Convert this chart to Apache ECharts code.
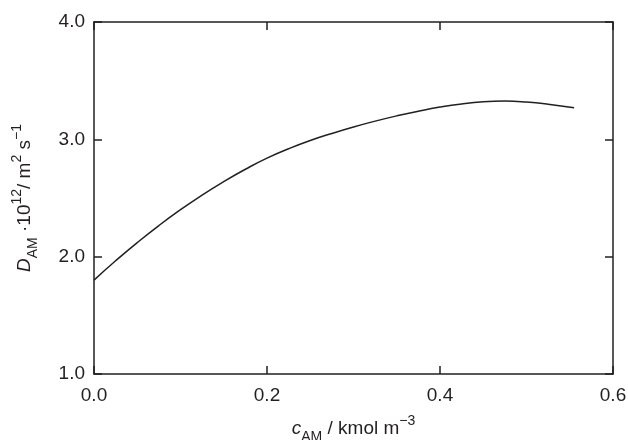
<!DOCTYPE html>
<html><head><meta charset="utf-8">
<script src="https://cdn.jsdelivr.net/npm/echarts@6/dist/echarts.min.js"></script>
<style>html,body{margin:0;padding:0;background:#fff}#c{width:628px;height:440px}</style>
</head><body><div id="c"></div>
<script>
var cAM = [0, 0.025, 0.05, 0.075, 0.1, 0.125, 0.15, 0.175, 0.2, 0.225, 0.25, 0.275, 0.3, 0.325, 0.35, 0.375, 0.4, 0.425, 0.45, 0.475, 0.5, 0.525, 0.555];
var DAM = [1.80, 1.965, 2.12, 2.265, 2.40, 2.525, 2.64, 2.745, 2.84, 2.92, 2.99, 3.05, 3.105, 3.155, 3.20, 3.24, 3.275, 3.302, 3.32, 3.326, 3.318, 3.30, 3.27];
var xTicks = [0.0, 0.2, 0.4, 0.6];
var yTicks = [1.0, 2.0, 3.0, 4.0];

var FONT = '"Liberation Sans", Arial, sans-serif';
var INK = '#231f20';
var chart = echarts.init(document.getElementById('c'), null, {renderer: 'canvas'});
var data = cAM.map(function (x, i) { return [x, DAM[i]]; });

function axisBase(show, margin) {
  return {
    axisLine: {show: true, onZero: false, lineStyle: {color: INK, width: 1.5}},
    axisTick: {show: true, inside: true, length: 8, lineStyle: {color: INK, width: 1.5}},
    splitLine: {show: false},
    axisLabel: {show: show, color: INK, fontSize: 19, fontFamily: FONT, margin: margin,
      formatter: function (v) { return v.toFixed(1); }}
  };
}
var rich = {
  it: {fontStyle: 'italic', fontSize: 19, fontFamily: FONT, color: INK, lineHeight: 30, verticalAlign: 'middle'},
  n: {fontSize: 19, fontFamily: FONT, color: INK, lineHeight: 30, verticalAlign: 'middle'},
  sub: {fontSize: 14, fontFamily: FONT, color: INK, lineHeight: 30, verticalAlign: 'bottom'},
  sup: {fontSize: 14, fontFamily: FONT, color: INK, lineHeight: 30, verticalAlign: 'top'}
};

var option = {
  animation: false,
  backgroundColor: '#fff',
  grid: {left: 94, right: 15, top: 22, bottom: 66, containLabel: false, outerBoundsMode: 'none'},
  xAxis: [
    Object.assign(axisBase(true, 12), {
      type: 'value', min: xTicks[0], max: xTicks[xTicks.length - 1], interval: 0.2, position: 'bottom',
      name: '{it|c}{sub|AM}{n| / kmol m}{sup|\u22123}', nameLocation: 'middle', nameGap: 40,
      nameTextStyle: {rich: rich}
    }),
    Object.assign(axisBase(false, 8), {
      type: 'value', min: xTicks[0], max: xTicks[xTicks.length - 1], interval: 0.2, position: 'top'
    })
  ],
  yAxis: [
    Object.assign(axisBase(true, 9), {
      type: 'value', min: yTicks[0], max: yTicks[yTicks.length - 1], interval: 1, position: 'left',
      name: '{it|D}{sub|AM}{n| \u00b710}{sup|12}{n|/ m}{sup|2}{n| s}{sup|\u22121}', nameLocation: 'middle', nameGap: 54,
      nameTextStyle: {rich: rich}
    }),
    Object.assign(axisBase(false, 8), {
      type: 'value', min: yTicks[0], max: yTicks[yTicks.length - 1], interval: 1, position: 'right'
    })
  ],
  series: [{
    type: 'line', data: data, smooth: 0.5, showSymbol: false,
    lineStyle: {color: INK, width: 1.5}, xAxisIndex: 0, yAxisIndex: 0
  }]
};
chart.setOption(option);
</script></body></html>
